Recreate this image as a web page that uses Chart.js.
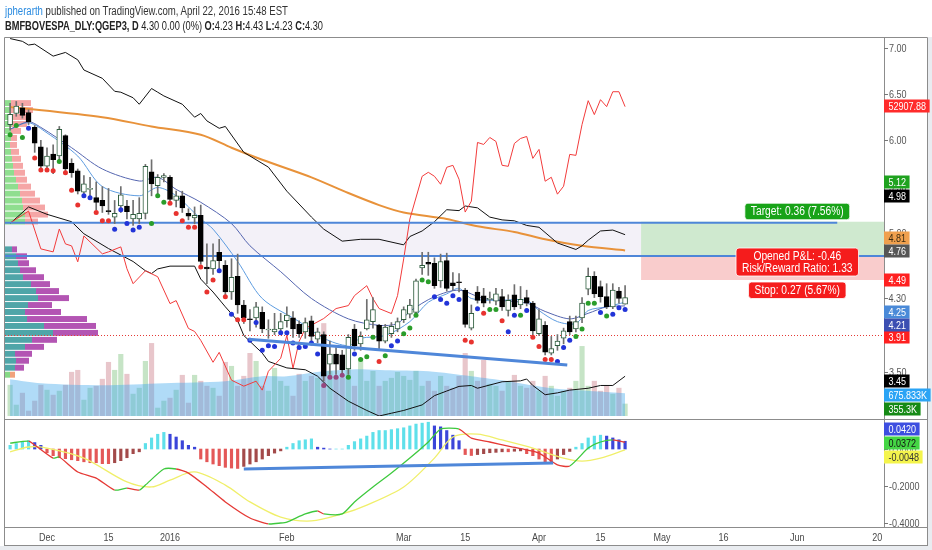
<!DOCTYPE html>
<html><head><meta charset="utf-8">
<script src="https://cdn.jsdelivr.net/npm/chart.js@4.4.1/dist/chart.umd.min.js"></script>
<style>
html,body{margin:0;padding:0;background:#ffffff;}
body{width:932px;height:550px;position:relative;overflow:hidden;}
.hd{position:absolute;left:5px;white-space:nowrap;font-family:'Liberation Sans',Arial,sans-serif;color:#333;z-index:3;transform-origin:0 0;}
#h1{top:4px;font-size:12px;line-height:14px;}
#h1 .u{color:#2a8be0;}
#h2{top:19px;font-size:12px;line-height:14px;color:#222;}
#ca{position:absolute;left:0;top:0;}
#cb{position:absolute;left:0;top:418px;}
</style></head><body>
<canvas id="ca" width="932" height="420"></canvas>
<canvas id="cb" width="932" height="132"></canvas>
<div class="hd" id="h1"><span class="u">jpherarth</span> published on TradingView.com, April 22, 2016 15:48 EST</div>
<div class="hd" id="h2"><b>BMFBOVESPA_DLY:QGEP3, D</b> 4.30 0.00 (0%) <b>O:</b>4.23 <b>H:</b>4.43 <b>L:</b>4.23 <b>C:</b>4.30</div>
<script>
// ================= DATA =================
// x positions are trading-bar indices (0 = 23 Nov 2015, 100 = 22 Apr 2016)
const X_MIN = -0.83, X_MAX = 142.1;
const tickIdx  = [6, 16, 26, 45, 64, 74, 86, 96, 106, 116, 128, 141];
const tickText = ['Dec','15','2016','Feb','Mar','15','Apr','15','May','16','Jun','20'];

const opens = [6.17,6.29,6.35,6.30,6.14,5.93,5.72,5.85,5.83,6.05, 5.75,5.67,5.44,5.47,5.38,5.35,5.24,5.17,5.29,5.29,
 5.15,5.15,5.21,5.66,5.51,5.60,5.60,5.35,5.40,5.21, 5.16,5.19,4.63,4.61,4.79,4.65,4.36,4.53,4.22,4.07,
 4.08,4.14,3.95,3.93,3.96,4.05,4.08,4.01,3.93,4.05, 3.85,3.90,3.58,3.69,3.68,3.53,3.96,3.80,3.96,4.04,
 4.00,3.83,3.91,3.96,4.06,4.12,4.14,4.62,4.68,4.67, 4.48,4.70,4.46,4.47,4.38,3.97,4.36,4.32,4.28,4.26,
 4.31,4.16,4.33,4.22,4.30,4.24,3.91,4.00,3.70,3.78, 3.86,4.04,3.96,4.08,4.39,4.53,4.42,4.31,4.20,4.37, 4.23];
const highs = [6.40,6.42,6.40,6.33,6.16,6.00,5.92,5.95,6.15,6.06, 5.80,5.69,5.62,5.60,5.55,5.50,5.48,5.35,5.50,5.35,
 5.35,5.38,5.74,5.79,5.63,5.64,5.62,5.45,5.45,5.26, 5.28,5.30,4.88,4.88,4.93,4.70,4.72,4.77,4.27,4.17,
 4.25,4.20,4.06,4.13,4.13,4.20,4.15,4.05,4.08,4.10, 3.97,3.93,3.83,3.76,3.73,3.90,4.01,3.93,4.28,4.30,
 4.01,4.01,4.03,4.08,4.20,4.28,4.50,4.79,4.79,4.73, 4.77,4.78,4.57,4.56,4.40,4.22,4.42,4.40,4.36,4.40,
 4.39,4.33,4.44,4.42,4.38,4.26,4.17,4.04,3.88,3.90, 3.97,4.10,4.10,4.30,4.62,4.58,4.48,4.45,4.45,4.41, 4.43];
const lows = [6.11,6.26,6.24,6.17,5.87,5.68,5.66,5.64,5.77,5.65, 5.60,5.42,5.42,5.37,5.25,5.22,5.20,5.10,5.22,5.15,
 5.08,5.10,5.15,5.40,5.38,5.55,5.34,5.28,5.22,5.14, 5.10,4.66,4.45,4.55,4.61,4.33,4.28,4.13,4.02,3.94,
 3.98,3.92,3.86,3.90,3.91,3.98,3.87,3.87,3.86,3.81, 3.81,3.40,3.47,3.47,3.47,3.47,3.73,3.73,3.95,3.97,
 3.73,3.81,3.87,3.93,4.03,4.08,4.11,4.55,4.54,4.40, 4.41,4.37,4.38,4.36,3.98,3.95,4.24,4.20,4.24,4.22,
 4.16,4.10,4.17,4.18,4.21,3.90,3.89,3.68,3.68,3.73, 3.80,3.90,3.93,4.03,4.33,4.30,4.25,4.18,4.18,4.24, 4.23];
const closes = [6.28,6.37,6.27,6.20,5.97,5.72,5.83,5.79,6.12,5.69, 5.65,5.45,5.53,5.48,5.33,5.29,5.23,5.21,5.41,5.23,
 5.20,5.21,5.72,5.53,5.60,5.62,5.36,5.40,5.27,5.18, 5.19,4.69,4.61,4.70,4.70,4.36,4.52,4.22,4.08,4.06,
 4.20,3.96,3.96,3.96,4.04,4.11,3.96,3.91,4.03,3.88, 3.93,3.45,3.69,3.58,3.52,3.87,3.78,3.88,4.06,4.17,
 3.83,3.98,3.99,4.04,4.17,4.22,4.48,4.65,4.66,4.43, 4.69,4.40,4.43,4.46,4.01,4.13,4.27,4.24,4.29,4.34,
 4.20,4.27,4.20,4.28,4.24,3.94,4.07,3.71,3.75,3.83, 3.94,3.93,4.04,4.24,4.53,4.34,4.31,4.20,4.38,4.29, 4.30];
// volume, thousands of shares
const volumes = [911,323,676,147,441,911,764,617,735,911, 1294,1352,470,823,882,1088,1588,1352,1823,1235,
 647,823,1617,2146,235,441,529,764,1205,382, 1205,1029,882,823,588,1588,1470,882,1176,1852,
 1617,882,735,1411,1029,882,588,1235,1029,1176, 1117,2734,1323,1176,1117,1411,882,1705,1029,1323,
 882,1029,1117,1294,1176,1058,1323,882,1029,735, 1176,882,823,1176,1852,1323,1029,1646,941,882,
 735,1029,1205,882,823,1029,735,1176,882,588, 735,823,1029,2058,882,1029,735,882,647,823, 355.3];
const volMA = [[0,1088],[5,970],[15,911],[25,970],[35,1029],[41,1176],[45,1176],[51,1323],[57,1382],[61,1352],
 [68,1323],[75,1176],[81,1029],[88,823],[95,735],[100,675.833]];
// coloured dots under the bars
const dotVals = [6.06,6.16,6.03,6.13,5.81,5.68,5.68,5.67,5.77,5.65, 5.46,5.30,5.40,5.38,5.22,5.13,5.13,5.04,5.25,5.10,
 5.03,5.06,null,5.10,5.40,5.33,5.32,5.21,5.13,5.06, 5.06,4.63,4.36,4.49,4.59,4.31,4.12,4.06,4.06,3.84,
 4.03,3.73,3.78,3.77,3.92,3.92,3.81,3.76,3.77,3.81, 3.69,3.35,3.44,3.44,3.46,3.44,3.69,3.63,3.66,3.87,
 3.61,3.67,3.78,3.83,3.91,3.97,4.11,4.49,4.47,4.31, 4.28,4.24,4.32,4.28,3.84,3.82,4.18,4.13,4.17,4.17,
 4.05,3.93,4.11,4.11,4.16,3.87,3.77,3.63,3.63,3.61, 3.76,3.84,3.88,3.96,4.24,4.24,4.14,4.10,4.12,4.19, 4.17];
const dotKinds = ('ggg brrrrgr rrbbrrrbbb bb-gggrrrr rrrrbrbrrb bbbbbbbbbb bppppgbggg rgbbgggggb bbbbrrbrgg rbbgbrrrrb bbggggbgbb b').replace(/ /g,'').split('');
const fastMA = [[0,6.12],[3,6.19],[6,6.08],[11,5.83],[15,5.50],[21,5.40],[24,5.49],[27,5.40],[31,5.15],[33,5.04],
 [37,4.69],[41,4.29],[47,4.04],[51,3.86],[55,3.78],[57,3.86],[61,3.89],[65,4.04],[68,4.25],[71,4.34],[73,4.40],
 [75,4.29],[79,4.27],[84,4.27],[86,4.16],[89,4.04],[92,4.02],[94,4.16],[97,4.20],[100,4.25]];
const slowMA = [[0,6.12],[3,6.20],[5,6.14],[10,5.92],[15,5.69],[21,5.56],[24,5.60],[27,5.47],[31,5.33],[36,5.10],
 [39,4.86],[44,4.58],[49,4.29],[55,4.07],[60,4.00],[63,4.02],[65,4.15],[69,4.31],[73,4.38],[77,4.29],[84,4.24],
 [87,4.15],[91,4.07],[94,4.13],[97,4.20],[100,4.21]];
const longMA = [[0,6.36],[15,6.25],[23,6.15],[31,6.06],[36,5.92],[41,5.79],[49,5.60],[55,5.43],[60,5.30],[64,5.22],
 [71,5.15],[76,5.07],[82,5.01],[87,4.93],[93,4.86],[100,4.81]];
const upperBand = [[0,7.10],[2,7.07],[3,7.03],[4,7.04],[7,6.91],[9,6.95],[11,6.87],[12,6.76],[15,6.67],[17,6.53],
 [18,6.52],[20,6.46],[21,6.39],[23,6.56],[24,6.52],[25,6.48],[28,6.39],[30,6.25],[31,6.29],[32,6.21],[34,6.13],
 [35,6.15],[38,5.87],[42,5.71],[45,5.45],[49,5.17],[51,5.04],[54,4.91],[57,4.93],[60,4.93],[64,4.87],[65,4.96],
 [67,5.02],[69,5.12],[71,5.25],[73,5.24],[74,5.29],[76,5.27],[78,5.17],[80,5.14],[82,5.13],[84,5.08],[86,5.06],
 [89,4.89],[92,4.82],[93,4.86],[94,4.92],[96,5.02],[98,5.03],[100,4.98]];
const lowerBand = [[0,5.10],[3,5.28],[6,5.20],[10,5.12],[12,4.99],[16,4.83],[20,4.69],[22,4.59],[23,4.56],[24,4.61],
 [26,4.64],[30,4.64],[31,4.50],[33,4.36],[35,4.20],[37,4.05],[38,3.89],[41,3.70],[42,3.61],[45,3.54],[48,3.52],
 [50,3.45],[52,3.32],[55,3.18],[58,3.08],[60,3.02],[62,3.05],[64,3.08],[67,3.14],[69,3.24],[71,3.29],[73,3.34],
 [75,3.35],[76,3.32],[80,3.39],[83,3.40],[84,3.42],[85,3.35],[87,3.25],[89,3.27],[91,3.30],[94,3.32],[96,3.35],
 [98,3.35],[100,3.45]];
// IBOVESPA comparison (index points)
const ibov = [[0,46582],[2,47014],[3,47231],[5,45176],[7,45014],[8,46257],[9,45446],[10,45338],[11,44473],[12,45879],
 [15,44906],[16,45014],[18,45284],[19,44095],[20,43284],[22,43986],[24,43662],[26,42202],[27,42364],[29,40850],
 [30,40688],[31,40202],[33,39012],[34,39553],[36,38039],[38,37714],[40,37985],[41,37498],[42,38525],[44,39228],
 [45,40472],[46,38688],[47,40147],[48,40850],[51,41391],[53,41932],[55,42094],[56,42635],[58,43175],[59,42472],
 [60,41932],[62,41661],[63,42635],[64,44635],[65,46798],[67,49123],[68,49339],[69,49123],[70,48691],[71,49610],
 [72,49718],[73,48961],[74,47177],[75,47771],[76,50961],[77,50853],[78,51232],[79,51016],[80,49718],[81,49664],
 [82,50907],[83,51178],[84,51286],[85,50096],[86,50583],[87,48853],[88,49069],[89,48150],[90,48582],[91,50313],
 [92,50259],[93,51935],[94,53232],[95,52475],[96,53286],[97,52908],[98,53719],[99,53719],[100,52907.88]];
// volume profile rows: price, up volume, down volume, zone
const vpPrice = [6.397,6.322,6.246,6.171,6.096,6.020,5.945,5.870,5.795,5.719,5.644,5.569,5.494,5.418,5.343,5.268,5.192,5.117,
 4.816,4.741,4.666,4.590,4.515,4.440,4.365,4.289,4.214,4.139,4.063,3.988,3.913,3.838,3.762,3.687,3.612,3.537,3.461];
const vpUp = [60,60,60,70,60,60,50,60,70,80,90,110,130,150,170,180,200,200,
 70,110,130,150,180,260,310,330,230,200,220,390,480,270,200,100,110,100,50];
const vpDown = [200,220,180,150,100,60,70,80,90,100,110,110,130,150,180,220,230,130,
 50,110,110,160,210,190,230,310,240,360,600,520,450,250,190,170,130,90,50];
const vpZone = 'oooooooooooooooooovvvvvvvvvvvvvvvvvvl'.split('');
const VP_STEP = 0.075;
// drawn levels
const levelUpper = 5.11, levelLower = 4.75, redLevel = 3.89;
const levelUpperEnd = 134.5;
const trendMain = [[38.8,3.85],[90.6,3.57]];
const position = {start:102.6, entry:4.76, target:5.12, stop:4.49, labelIdx:128};
const posTexts = {target:['Target: 0.36 (7.56%)'], pnl:['Opened P&L: -0.46','Risk/Reward Ratio: 1.33'], stop:['Stop: 0.27 (5.67%)']};
// oscillator pane
const histVals = [0.02,0.03,0.04,0.045,0.035,0.02, -0.02,-0.036,-0.047,-0.052,-0.058,-0.063,-0.069,-0.074,-0.074,-0.079,-0.079,-0.074,
 -0.063,-0.047,-0.025,-0.015, 0.03,0.06,0.08,0.09,0.08,0.065,0.045,0.02,0.01,
 -0.054,-0.069,-0.081,-0.09,-0.099,-0.103,-0.105, -0.094,-0.081,-0.069,-0.054,-0.036,-0.022,-0.01,
 0.01,0.03,0.045,0.05,0.055,0.01,0.005,0,0,0,
 0.02,0.04,0.055,0.07,0.09,0.1,0.1,0.105,0.11,0.115,0.125,0.135,0.14,0.145, 0.125,0.12,0.1,0.075,0.045,
 -0.03,-0.035,-0.03,-0.025,-0.02,-0.018,-0.015,-0.015,-0.012,-0.01,
 -0.025,-0.036,-0.054,-0.069,-0.076,-0.054,-0.03,-0.013,
 0.01,0.03,0.06,0.07,0.075,0.07,0.06,0.05,0.042];
const oscLine = [[0,0.032],[3,0.043],[4,0.022],[7,-0.049],[8,-0.043],[11,-0.124],[14,-0.157],[17,-0.222],[19,-0.211],
 [21,-0.222],[22,-0.195],[25,-0.108],[27,-0.108],[29,-0.130],[32,-0.205],[35,-0.286],[39,-0.373],[42,-0.405],
 [44,-0.400],[45,-0.395],[48,-0.351],[50,-0.335],[51,-0.351],[54,-0.351],[56,-0.286],[59,-0.205],[62,-0.130],
 [65,-0.049],[68,0.038],[70,0.108],[73,0.108],[75,0.059],[78,0.038],[81,0.016],[84,-0.005],[86,-0.022],
 [89,-0.086],[91,-0.092],[94,0.005],[96,0.038],[98,0.049],[100,0.0372]];
const sigLine = [[0,-0.016],[3,0.011],[6,0.005],[12,-0.049],[19,-0.178],[23,-0.205],[26,-0.168],[30,-0.124],
 [35,-0.195],[39,-0.286],[44,-0.368],[49,-0.389],[54,-0.351],[58,-0.303],[64,-0.205],[69,-0.049],[72,0.065],
 [76,0.081],[80,0.049],[85,0.005],[90,-0.049],[93,-0.065],[96,-0.049],[100,-0.0048]];
const trendOsc = [[38.0,-0.108],[88.3,-0.076]];
// price-axis tags: text and the level where the tag is shown
const priceTags = [
 {text:'52907.88', at:6.370, bg:'#ff2b2b', fg:'#ffffff'},
 {text:'5.12', at:5.553, bg:'#1fa21f', fg:'#ffffff'},
 {text:'4.98', at:5.402, bg:'#000000', fg:'#ffffff'},
 {text:'4.81', at:4.945, bg:'#f0a04e', fg:'#3a2a10'},
 {text:'4.76', at:4.800, bg:'#555555', fg:'#ffffff'},
 {text:'4.49', at:4.488, bg:'#ff2020', fg:'#ffffff'},
 {text:'4.30', at:4.300, bg:null, fg:'#555555'},
 {text:'3.91', at:3.875, bg:'#ff2020', fg:'#ffffff'},
 {text:'4.25', at:4.149, bg:'#4a8ad8', fg:'#ffffff'},
 {text:'4.21', at:3.999, bg:'#3c4fb2', fg:'#ffffff'},
 {text:'3.45', at:3.397, bg:'#000000', fg:'#ffffff'},
 {text:'675.833K', at:3.246, bg:'#2ba4f5', fg:'#ffffff'},
 {text:'355.3K', at:3.096, bg:'#168a16', fg:'#ffffff'}];
const oscTags = [
 {text:'0.0420', at:0.108, bg:'#3d4ee0', fg:'#ffffff'},
 {text:'0.0372', at:0.032, bg:'#45d645', fg:'#111111'},
 {text:'-0.0048', at:-0.043, bg:'#f4f44c', fg:'#333333'}];

// ================= STYLE =================
const FONT = "'Liberation Sans',Arial,sans-serif";
const SX = 0.82; // horizontal squeeze to mimic a narrow face
Chart.defaults.font.family = FONT;
const Y_MIN = 3.020, Y_MAX = 7.106;
const pts = a => a.map(p => ({x:p[0], y:p[1]}));
const dotColor = {g:'#2a9d2a', r:'#e8332f', b:'#2234d8', p:'#96477f'};
const vpColors = {o:['#8fde8f','#f5a6a6'], v:['#4fa5a8','#b355b3'], l:['#86d986','#f1a27c']};

function nText(ctx, text, x, y, size, color, align){
  ctx.save(); ctx.font = size + 'px ' + FONT; ctx.fillStyle = color; ctx.textBaseline = 'middle'; ctx.textAlign = align || 'left';
  ctx.translate(x, y); ctx.scale(SX, 1); ctx.fillText(text, 0, 0); ctx.restore();
}
function nWidth(ctx, text, size){ ctx.save(); ctx.font = size + 'px ' + FONT; const w = ctx.measureText(text).width * SX; ctx.restore(); return w; }

function drawAxisTicks(chart, scale, digits){
  const ctx = chart.ctx, x0 = chart.chartArea.right, a = chart.chartArea;
  ctx.save(); ctx.strokeStyle = '#777'; ctx.lineWidth = 1;
  scale.ticks.forEach(t => {
    const y = Math.round(scale.getPixelForValue(t.value));
    if (y < a.top + 3 || y > a.bottom - 3) return;
    ctx.beginPath(); ctx.moveTo(x0, y + 0.5); ctx.lineTo(x0 + 4, y + 0.5); ctx.stroke();
    nText(ctx, Number(t.value).toFixed(digits), x0 + 5, y + 0.5, 11, '#555');
  });
  ctx.restore();
}
function drawTags(chart, scale, tags){
  const ctx = chart.ctx, x0 = chart.chartArea.right;
  tags.forEach(t => {
    const yc = Math.round(scale.getPixelForValue(t.at));
    const w = nWidth(ctx, t.text, 11);
    if (t.bg) { ctx.fillStyle = t.bg; ctx.fillRect(x0, yc - 6.5, w + 8, 13); }
    else { ctx.strokeStyle = '#777'; ctx.lineWidth = 1; ctx.beginPath(); ctx.moveTo(x0, yc + 0.5); ctx.lineTo(x0 + 4, yc + 0.5); ctx.stroke(); }
    nText(ctx, t.text, x0 + 4.5, yc + 0.5, 11, t.fg);
  });
}
function rrect(ctx, x, y, w, h, r){
  ctx.beginPath(); ctx.moveTo(x + r, y); ctx.lineTo(x + w - r, y); ctx.quadraticCurveTo(x + w, y, x + w, y + r);
  ctx.lineTo(x + w, y + h - r); ctx.quadraticCurveTo(x + w, y + h, x + w - r, y + h); ctx.lineTo(x + r, y + h);
  ctx.quadraticCurveTo(x, y + h, x, y + h - r); ctx.lineTo(x, y + r); ctx.quadraticCurveTo(x, y, x + r, y); ctx.closePath();
}
function posLabel(ctx, lines, cx, yRef, mode, bg){
  const w = Math.max(...lines.map(l => nWidth(ctx, l, 12.5))) + 12;
  const lh = 11.5, h = lines.length * lh + 5;
  const top = mode === 'above' ? yRef - h : yRef;
  ctx.fillStyle = bg; rrect(ctx, cx - w / 2, top, w, h, 3); ctx.fill();
  ctx.strokeStyle = 'rgba(255,255,255,0.8)'; ctx.lineWidth = 1; ctx.stroke();
  lines.forEach((l, k) => nText(ctx, l, cx, top + 2.5 + lh * (k + 0.5) + 0.5, 12.5, '#ffffff', 'center'));
}

const priceOverlay = {
  id:'priceOverlay',
  beforeDatasetsDraw(chart){
    const {ctx, chartArea:a, scales:{x, y}} = chart;
    ctx.save(); ctx.beginPath(); ctx.rect(a.left, a.top, a.right - a.left, a.bottom - a.top); ctx.clip();
    const xs = x.getPixelForValue(position.start);
    const yU = y.getPixelForValue(levelUpper), yL = y.getPixelForValue(levelLower);
    ctx.fillStyle = '#f3f1f8'; ctx.fillRect(a.left, yU, xs - a.left, yL - yU);
    const yT = y.getPixelForValue(position.target), yE = y.getPixelForValue(position.entry), yS = y.getPixelForValue(position.stop);
    ctx.fillStyle = '#cfe9cf'; ctx.fillRect(xs, yT, a.right - xs, yE - yT);
    ctx.fillStyle = '#f9cccc'; ctx.fillRect(xs, yE, a.right - xs, yS - yE);
    ctx.restore();
  },
  afterDatasetDraw(chart, args){
    if (chart.data.datasets[args.index].id !== 'volMA') return;
    const {ctx, scales:{y, xvp}} = chart;
    ctx.save();
    vpPrice.forEach((p, k) => {
      const yt = y.getPixelForValue(p + VP_STEP / 2), yb = y.getPixelForValue(p - VP_STEP / 2);
      const x0 = xvp.getPixelForValue(0), x1 = xvp.getPixelForValue(vpUp[k]), x2 = xvp.getPixelForValue(vpUp[k] + vpDown[k]);
      const c = vpColors[vpZone[k]];
      ctx.fillStyle = c[0]; ctx.fillRect(x0, yt, x1 - x0, yb - yt - 1);
      ctx.fillStyle = c[1]; ctx.fillRect(x1, yt, x2 - x1, yb - yt - 1);
    });
    ctx.restore();
  },
  afterDatasetsDraw(chart){
    const {ctx, scales:{x, y}} = chart;
    ctx.save();
    const cx = x.getPixelForValue(position.labelIdx);
    posLabel(ctx, posTexts.target, cx, y.getPixelForValue(position.target) - 2, 'above', '#18a318');
    posLabel(ctx, posTexts.pnl, cx, y.getPixelForValue(position.entry) - 7, 'below', '#f51c1c');
    posLabel(ctx, posTexts.stop, cx, y.getPixelForValue(position.stop) + 2, 'below', '#f51c1c');
    ctx.restore();
  },
  afterDraw(chart){
    const {ctx, chartArea:a} = chart;
    ctx.save();
    ctx.fillStyle = '#e9ecf0'; ctx.fillRect(928, 37, 4, 383);
    ctx.strokeStyle = '#8c8c8c'; ctx.lineWidth = 1; ctx.beginPath();
    ctx.moveTo(a.left - 0.5, 37.5); ctx.lineTo(927.5, 37.5);
    ctx.moveTo(a.left - 0.5, 37.5); ctx.lineTo(a.left - 0.5, 420);
    ctx.moveTo(927.5, 37.5); ctx.lineTo(927.5, 420);
    ctx.moveTo(a.right + 0.5, 37.5); ctx.lineTo(a.right + 0.5, 420);
    ctx.stroke(); ctx.restore();
    drawAxisTicks(chart, chart.scales.y, 2);
    drawTags(chart, chart.scales.y, priceTags);
  }
};

const oscOverlay = {
  id:'oscOverlay',
  afterDraw(chart){
    const {ctx, chartArea:a, scales:{x}} = chart;
    ctx.save();
    ctx.fillStyle = '#e9ecf0'; ctx.fillRect(928, 0, 4, 132); ctx.fillRect(0, 128, 932, 4);
    ctx.strokeStyle = '#8c8c8c'; ctx.lineWidth = 1; ctx.beginPath();
    ctx.moveTo(a.left - 0.5, 1.5); ctx.lineTo(927.5, 1.5);
    ctx.moveTo(a.left - 0.5, a.bottom + 0.5); ctx.lineTo(927.5, a.bottom + 0.5);
    ctx.moveTo(a.left - 0.5, 0); ctx.lineTo(a.left - 0.5, 128);
    ctx.moveTo(927.5, 0); ctx.lineTo(927.5, 128);
    ctx.moveTo(a.right + 0.5, 0); ctx.lineTo(a.right + 0.5, a.bottom);
    ctx.moveTo(a.left - 0.5, 127.5); ctx.lineTo(927.5, 127.5);
    ctx.stroke(); ctx.restore();
    x.ticks.forEach((t, k) => nText(ctx, tickText[k], x.getPixelForValue(t.value), a.bottom + 10.5, 11, '#4a4a4a', 'center'));
    drawAxisTicks(chart, chart.scales.y, 4);
    drawTags(chart, chart.scales.y, oscTags);
  }
};

// ================= MAIN PANE =================
const up = i => closes[i] >= opens[i];
const dotData = [], dotCols = [];
dotVals.forEach((v, i) => { if (v !== null) { dotData.push({x:i, y:v}); dotCols.push(dotColor[dotKinds[i]]); } });

const lineDs = (id, data, color, width, order, extra) => Object.assign({
  type:'line', id, data: pts(data), borderColor: color, borderWidth: width, pointRadius: 0,
  tension: 0, fill: false, order, clip: 0, xAxisID:'x', yAxisID:'y'}, extra || {});

const noPad = s => { s.paddingTop = 0; s.paddingBottom = 0; s.paddingLeft = 0; s.paddingRight = 0; };

new Chart(document.getElementById('ca'), {
  data: { datasets: [
    {type:'bar', id:'vol', xAxisID:'x', yAxisID:'yv', order:100, grouped:false, barThickness:4.5, clip:0,
     data: volumes.map((v, i) => ({x:i, y:v})),
     backgroundColor: c => up(c.dataIndex) ? 'rgba(120,190,120,0.42)' : 'rgba(200,120,130,0.42)'},
    {type:'line', id:'volMA', xAxisID:'x', yAxisID:'yv', order:95, data: pts(volMA), pointRadius:0, borderWidth:0,
     tension:0.3, fill:'origin', backgroundColor:'rgba(66,170,235,0.42)', clip:0},
    lineDs('redLevel', [[X_MIN, redLevel],[X_MAX, redLevel]], '#e53935', 1, 90, {borderDash:[1,2]}),
    Object.assign(lineDs('ibov', ibov, '#f23b3b', 1, 80), {yAxisID:'yi'}),
    lineDs('upperBand', upperBand, '#111111', 1, 80),
    lineDs('lowerBand', lowerBand, '#111111', 1, 80),
    lineDs('longMA', longMA, '#e8923a', 2, 80, {tension:0.3}),
    lineDs('slowMA', slowMA, '#5566b0', 1, 70, {tension:0.3}),
    lineDs('fastMA', fastMA, '#5d9ce0', 1, 70, {tension:0.3}),
    lineDs('lvlU', [[X_MIN, levelUpper],[levelUpperEnd, levelUpper]], '#4e86d8', 2, 60),
    lineDs('lvlL', [[X_MIN, levelLower],[X_MAX, levelLower]], '#4e86d8', 2, 60),
    {type:'bar', id:'wicks', xAxisID:'x', yAxisID:'y', order:30, grouped:false, barThickness:1, clip:0,
     data: highs.map((h, i) => ({x:i, y:[lows[i], h]})), backgroundColor:'#6f6f6f', borderWidth:0},
    {type:'bar', id:'bodies', xAxisID:'x', yAxisID:'y', order:20, grouped:false, barThickness:5, minBarLength:1, clip:0,
     data: opens.map((o, i) => ({x:i, y:[o, closes[i]]})),
     backgroundColor: c => up(c.dataIndex) ? '#ffffff' : '#000000',
     borderColor: c => up(c.dataIndex) ? '#2e5d3e' : '#000000', borderWidth:1, borderSkipped:false},
    {type:'scatter', id:'dots', xAxisID:'x', yAxisID:'y', order:10, data: dotData,
     pointRadius:2.5, pointBorderWidth:0, pointBackgroundColor: dotCols, clip:0},
    lineDs('trend', trendMain, '#4f87d9', 3, 5)
  ]},
  options: {
    responsive:false, animation:false, events:[],
    layout:{padding:{left:5, top:38, right:3, bottom:2}},
    plugins:{legend:{display:false}, tooltip:{enabled:false}},
    scales:{
      x:{type:'linear', min:X_MIN, max:X_MAX, offset:false, display:false},
      xvp:{type:'linear', axis:'x', min:0, max:8790, offset:false, display:false},
      yv:{type:'linear', axis:'y', min:0, max:11172, display:false},
      yi:{type:'linear', axis:'y', min:36092, max:56639, display:false},
      y:{type:'linear', position:'right', min:Y_MIN, max:Y_MAX,
         afterFit(s){ s.width = 45; noPad(s); },
         afterBuildTicks(s){ s.ticks = s.ticks.filter(t => Math.abs(t.value * 2 - Math.round(t.value * 2)) < 1e-6); },
         ticks:{stepSize:0.5, includeBounds:false, display:false},
         grid:{display:false}, border:{display:false}}
    }
  },
  plugins:[priceOverlay]
});

// ================= OSCILLATOR PANE =================
const histColor = i => {
  const v = histVals[i], p = i > 0 ? histVals[i - 1] : 0;
  if (v >= 0) return v >= p ? '#5ee0ea' : '#3b45d9';
  return v <= p ? '#e45757' : '#a34a4a';
};
new Chart(document.getElementById('cb'), {
  data: { datasets: [
    {type:'bar', id:'hist', order:50, grouped:false, barThickness:2.5, clip:0,
     data: histVals.map((v, i) => ({x:i, y:v})), backgroundColor: c => histColor(c.dataIndex)},
    {type:'line', id:'sig', order:40, data: pts(sigLine), borderColor:'#f0ef6a', borderWidth:1.3, pointRadius:0, tension:0.3, clip:0},
    {type:'line', id:'osc', order:30, data: pts(oscLine), borderWidth:1.3, pointRadius:0, tension:0.2, clip:0,
     borderColor:'#3ec93e',
     segment:{borderColor: c => c.p1.parsed.y >= c.p0.parsed.y ? '#3ec93e' : '#e53935'}},
    {type:'line', id:'trendOsc', order:10, data: pts(trendOsc), borderColor:'#4f87d9', borderWidth:3, pointRadius:0, clip:0}
  ]},
  options: {
    responsive:false, animation:false, events:[],
    layout:{padding:{left:5, top:2, right:3, bottom:0}},
    plugins:{legend:{display:false}, tooltip:{enabled:false}},
    scales:{
      x:{type:'linear', min:X_MIN, max:X_MAX, offset:false,
         afterFit(s){ s.height = 23; noPad(s); },
         afterBuildTicks(s){ s.ticks = tickIdx.map(v => ({value:v})); },
         ticks:{display:false}, grid:{display:false}, border:{display:false}},
      y:{type:'linear', position:'right', min:-0.4216, max:0.157,
         afterFit(s){ s.width = 45; noPad(s); },
         afterBuildTicks(s){ s.ticks = s.ticks.filter(t => Math.abs(t.value * 5 - Math.round(t.value * 5)) < 1e-6); },
         ticks:{stepSize:0.2, includeBounds:false, display:false},
         grid:{display:false}, border:{display:false}}
    }
  },
  plugins:[oscOverlay]
});

// fit header lines to the reference widths
[['h1', 283], ['h2', 318]].forEach(([id, target]) => {
  const el = document.getElementById(id);
  const w = el.getBoundingClientRect().width;
  if (w > 0) el.style.transform = 'scaleX(' + (target / w) + ')';
});
</script>
</body></html>
